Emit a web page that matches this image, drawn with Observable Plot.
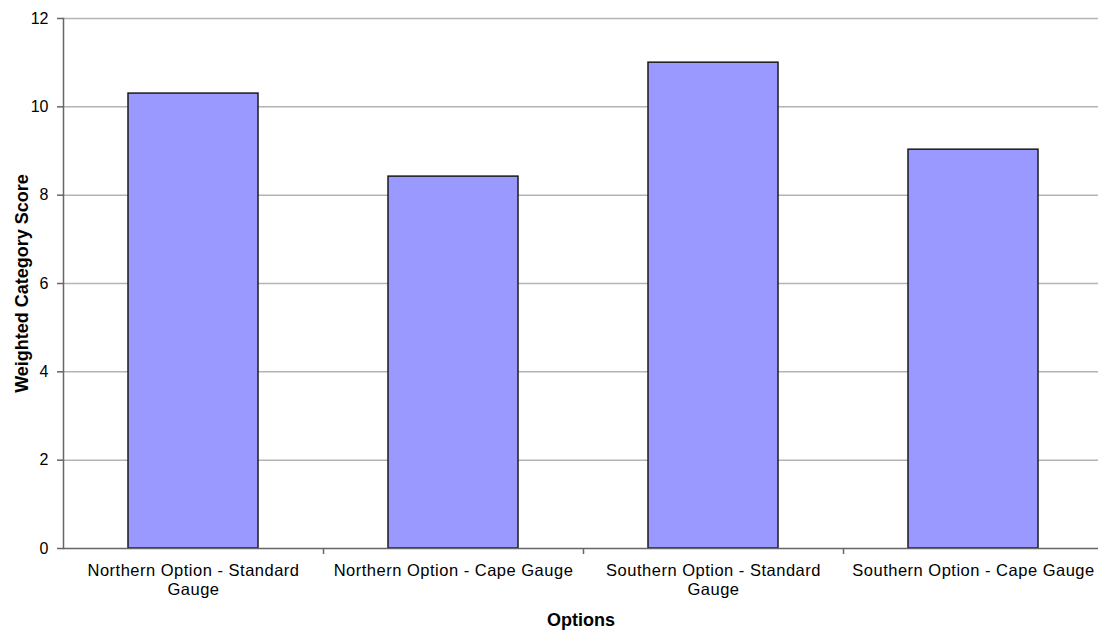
<!DOCTYPE html>
<html><head><meta charset="utf-8">
<script src="https://cdn.jsdelivr.net/npm/d3@7"></script>
<script src="https://cdn.jsdelivr.net/npm/@observablehq/plot@0.6"></script>
<style>
body{margin:0;background:#fff;font-family:"Liberation Sans",Arial,sans-serif}
#chart svg{display:block}
g[aria-label="x-axis tick label"] text{font-size:16.5px;letter-spacing:0.5px}
g[aria-label="y-axis tick label"] text{font-size:16px}
g[aria-label="y-axis label"] text{font-size:18px;font-weight:bold}
g[aria-label="x-axis label"] text{font-size:18px;font-weight:bold}
</style></head><body><div id="chart"></div>
<script>
const categories = ["Northern Option - Standard Gauge", "Northern Option - Cape Gauge", "Southern Option - Standard Gauge", "Southern Option - Cape Gauge"];
const scores = [10.3, 8.42, 11.0, 9.03];
const tickLabels = ["Northern Option - Standard\nGauge", "Northern Option - Cape Gauge", "Southern Option - Standard\nGauge", "Southern Option - Cape Gauge"];
const yTicks = [0, 2, 4, 6, 8, 10, 12];

const data = categories.map((c, i) => ({option: c, score: scores[i]}));
const W = 1098, H = 633, ML = 63, MT = 18, MB = 85;
const step = 260;

const chart = Plot.plot({
  width: W, height: H,
  marginTop: MT, marginBottom: MB, marginLeft: ML, marginRight: 0,
  style: {fontFamily: '"Liberation Sans", Arial, sans-serif', fontSize: "16px", color: "#000", background: "#fff"},
  x: {domain: categories, range: [ML, ML + step * categories.length], paddingInner: 0.5, paddingOuter: 0.25, label: "Options"},
  y: {domain: [0, 12], label: "Weighted Category Score"},
  marks: [
    Plot.ruleY(yTicks.slice(1), {stroke: "#b4b4b4", strokeWidth: 1.5}),
    Plot.barY(data, {x: "option", y: "score", fill: "#9999ff", stroke: "#1a1a1a", strokeWidth: 1.5}),
    Plot.ruleY([0], {stroke: "#666", strokeWidth: 1.5}),
    Plot.frame({anchor: "left", stroke: "#666", strokeWidth: 1.5}),
    Plot.ruleX(categories.slice(0, 3), {x: d => d, dx: step / 2, insetTop: H - MT - MB, insetBottom: -6, stroke: "#666", strokeWidth: 1.5}),
    Plot.axisY({ticks: yTicks, tickSize: 6, tickPadding: 9, stroke: "#666", strokeWidth: 1.5, label: "Weighted Category Score", labelAnchor: "center", labelArrow: "none", labelOffset: 48}),
    Plot.axisX({tickSize: 0, tickPadding: 14, lineHeight: 1.15, tickFormat: d => tickLabels[categories.indexOf(d)], label: "Options", labelAnchor: "center", labelArrow: "none", labelOffset: 77})
  ]
});
document.getElementById("chart").appendChild(chart);
</script></body></html>
